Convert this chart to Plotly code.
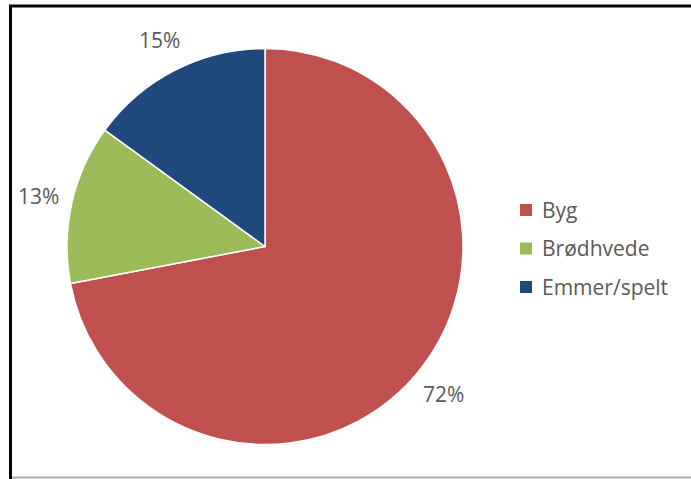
import math
import plotly.graph_objects as go

labels = ["Byg", "Brødhvede", "Emmer/spelt"]
values = [72, 13, 15]
colors = ["#C0504D", "#9BBB59", "#1F497D"]

W, H = 691, 479
# pie domain in pixels
px_l, px_r, px_t, px_b = 67, 463, 48, 445
dom_x = [px_l / W, px_r / W]
dom_y = [1 - px_b / H, 1 - px_t / H]

font_family = "Open Sans, Noto Sans, sans-serif"
txt_color = "#595959"

fig = go.Figure()
fig.add_trace(go.Pie(
    labels=labels,
    values=values,
    sort=False,
    direction="clockwise",
    rotation=0,
    marker=dict(colors=colors, line=dict(color="white", width=1.5)),
    textinfo="none",
    hoverinfo="label+percent",
    showlegend=False,
    domain=dict(x=dom_x, y=dom_y),
))

# outside percentage labels, placed from the slice mid-angles
cx = (px_l + px_r) / 2
cy = (px_t + px_b) / 2
R = min(px_r - px_l, px_b - px_t) / 2
total = sum(values)
cum = 0
annotations = []
for v in values:
    mid = (cum + v / 2) / total * 2 * math.pi
    cum += v
    d = R * 1.17
    x_px = cx + d * math.sin(mid)
    y_px = cy - d * math.cos(mid)
    annotations.append(dict(
        x=x_px / W, y=1 - y_px / H, xref="paper", yref="paper",
        text=f"{round(v / total * 100)}%", showarrow=False,
        xanchor="center", yanchor="middle",
        font=dict(family=font_family, size=21, color=txt_color),
    ))

# legend (squares + labels), evenly spaced
leg_sq_x0, leg_sq_size, leg_txt_x = 520, 12, 540
leg_y0, leg_step = 210, 38.5
shapes = []
for i, (lab, col) in enumerate(zip(labels, colors)):
    yc = leg_y0 + i * leg_step
    shapes.append(dict(
        type="rect", xref="paper", yref="paper",
        x0=leg_sq_x0 / W, x1=(leg_sq_x0 + leg_sq_size) / W,
        y0=1 - (yc + leg_sq_size / 2) / H, y1=1 - (yc - leg_sq_size / 2) / H,
        fillcolor=col, line=dict(width=0),
    ))
    annotations.append(dict(
        x=leg_txt_x / W, y=1 - yc / H, xref="paper", yref="paper",
        text=lab, showarrow=False, xanchor="left", yanchor="middle",
        font=dict(family=font_family, size=21, color=txt_color),
    ))

# frame lines
shapes += [
    dict(type="line", xref="paper", yref="paper",
         x0=9 / W, x1=1.0, y0=1 - 6 / H, y1=1 - 6 / H,
         line=dict(color="black", width=3)),
    dict(type="line", xref="paper", yref="paper",
         x0=10.5 / W, x1=10.5 / W, y0=1 - 5 / H, y1=0,
         line=dict(color="black", width=3)),
    dict(type="line", xref="paper", yref="paper",
         x0=12 / W, x1=1.0, y0=1 - 477.5 / H, y1=1 - 477.5 / H,
         line=dict(color="#AAAAAA", width=2)),
]

fig.update_layout(
    width=W, height=H,
    margin=dict(l=0, r=0, t=0, b=0),
    paper_bgcolor="white",
    plot_bgcolor="white",
    showlegend=False,
    annotations=annotations,
    shapes=shapes,
)

fig.write_html("out.html",
               config={"displayModeBar": False},
               post_script="document.body.style.margin='0px';document.body.style.overflow='hidden';")
